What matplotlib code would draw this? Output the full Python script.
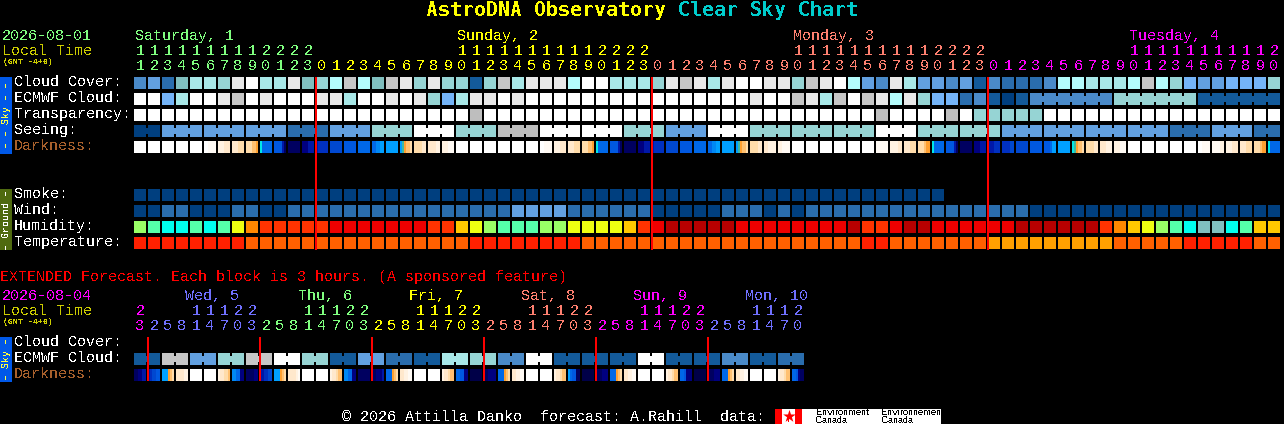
import numpy as np
import matplotlib
matplotlib.use("Agg")
import matplotlib.pyplot as plt

plt.rcParams['font.family'] = ['Liberation Mono', 'DejaVu Sans Mono']
plt.rcParams['text.hinting'] = 'native'
plt.rcParams['text.hinting_factor'] = 1

# block levels, 0 = clear/white up to 12 = overcast/dark blue
levels = ['#ffffff', '#e8e8e8', '#c6c6c6', '#b4fcfc', '#a8e8e8', '#96d4d4', '#80bfbf',
          '#74b4f8', '#62a0e0', '#4a8ac8', '#2a6dad', '#135a9a', '#003f7f', '#bebebe']

# hourly rows, one value per block
cloud = [9, 8, 10, 6, 4, 4, 5, 1, 0, 4, 4, 1, 6, 5, 3, 2, 3, 6, 2, 1, 5,
         1, 5, 5, 11, 5, 2, 4, 1, 1, 1, 3, 0, 0, 4, 4, 4, 5, 1, 2, 1, 4,
         1, 0, 0, 1, 1, 5, 2, 1, 0, 3, 8, 9, 1, 4, 8, 8, 9, 8, 11, 9, 10,
         10, 10, 9, 3, 3, 4, 4, 4, 3, 2, 3, 5, 7, 8, 8, 7, 7, 7, 5]
ecmwf = [0, 0, 7, 4, 0, 0, 1, 2, 0, 1, 0, 0, 0, 1, 1, 4, 0, 0, 1, 0, 1,
         5, 7, 4, 1, 1, 0, 1, 0, 0, 0, 0, 0, 0, 0, 0, 0, 0, 0, 0, 0, 0,
         0, 0, 1, 0, 0, 2, 1, 4, 2, 0, 2, 1, 3, 1, 5, 7, 7, 10, 9, 11, 12,
         11, 9, 9, 9, 9, 9, 9, 5, 5, 5, 5, 5, 5, 11, 11, 11, 11, 11, 11]
ecmwf_sizes = [1] * 64 + [6, 6, 6]
transparency = [0] * 24 + [13] + [0] * 28 + [13] + [0] * 4 + [13, 0, 5, 5, 5, 5, 5] + [0] * 17
seeing_groups = [12, 8, 8, 8, 10, 8, 5, 0, 5, 13, 0, 0, 5, 8, 0, 5, 5, 5, 0, 5, 5,
                 8, 8, 8, 8, 10, 8, 10]
seeing_sizes = [2] + [3] * 26 + [2]
smoke = [12] * 58
wind = [12, 12, 10, 10, 12, 12, 12, 10, 10, 12, 12, 10, 10, 10, 10, 10, 10, 10, 10, 10, 10,
        10, 10, 10, 10, 10, 10, 8, 8, 8, 8, 10, 10, 10, 10, 10, 10, 12, 12, 12, 12, 12,
        10, 10, 10, 12, 10, 12, 10, 10, 10, 10, 10, 10, 10, 10, 10, 10, 10, 10, 10, 10, 10,
        10, 12, 12, 12, 12, 12, 12, 12, 12, 12, 12, 12, 12, 12, 12, 12, 12, 12, 12]
humidity = ['#99ff66', '#55ffaa', '#00ffee', '#00ffee', '#55ffaa', '#00ffee', '#55ffaa', '#eeff11',
            '#ff8800', '#ff3300', '#ff3300', '#ff3300', '#ff3300', '#ff3300'] + ['#ee0000'] * 7 + \
           ['#ff3300', '#ff3300', '#ffc800', '#eeff11', '#99ff66', '#55ffaa', '#55ffaa', '#55ffaa',
            '#99ff66', '#99ff66', '#eeff11', '#eeff11', '#eeff11', '#eeff11', '#ffc800', '#ff3300',
            '#ee0000'] + ['#b80000'] * 5 + ['#ee0000'] * 8 + ['#b80000', '#ff3300', '#ff3300', '#ee0000',
            '#b80000', '#b80000'] + ['#ee0000'] * 6 + ['#b80000'] * 6 + \
           ['#ff3300', '#ff8800', '#ffc800', '#eeff11', '#99ff66', '#55ffaa', '#00ffee', '#80bfbf',
            '#80bfbf', '#00ffee', '#55ffaa', '#ffc800', '#ffc800']
temperature = ['#ff2000'] * 8 + ['#ff6000'] * 16 + ['#ff2000'] * 8 + ['#ff6000'] * 20 + \
              ['#ff2000'] * 2 + ['#ff6000'] * 7 + ['#ffa000'] * 9 + ['#ff6000'] * 5 + \
              ['#ff2000'] * 5 + ['#ff6000'] * 2

# darkness colours, each block has 6 samples left to right
dark_colors = {'W': '#ffffff', 'a': '#fffaf4', 'b': '#fff2e2', 'c': '#ffe8cc', 'd': '#ffdcaa',
               'e': '#ffc070', 'f': '#ffa030', 'C': '#00e8e8', 'T': '#40b8a0', 'S': '#00a0ff',
               'R': '#0088f4', 'B': '#0068e8', 'G': '#0058e0', 'H': '#0048d0', 'I': '#0030c0',
               'J': '#0018a8', 'K': '#000080', 'L': '#000060', 'M': '#000048'}
darkness = ['WWWWWW', 'WWWWWW', 'WWWWWW', 'WWWWWW', 'WWWWWW', 'WWaaaa', 'bbbccc', 'cccddd', 'dddeef',
            'CBBBBB', 'GGGGJL', 'LLLLLL', 'KKKJJJ', 'JIIIII', 'HHHHHH', 'GGGGGG', 'BBBBBB', 'BBRRSS',
            'SSSSSS', 'STfeed', 'ddddcc', 'ccccbb', 'bbbaaa', 'WWWWWW', 'WWWWWW', 'WWWWWW', 'WWWWWW',
            'WWWWWW', 'WWWWWW', 'WWaaaa', 'bbbccc', 'cccddd', 'dddeef', 'CBBBBB', 'GGGGJL', 'LLLLLL',
            'KKKJJJ', 'JIIIII', 'HHHHHH', 'GGGGGG', 'BBBBBB', 'BBRRSS', 'SSSSSS', 'STfeed', 'ddddcc',
            'ccbbbb', 'bbaaaa', 'WWWWWW', 'WWWWWW', 'WWWWWW', 'WWWWWW', 'WWWWWW', 'WWWWWW', 'aaaaaa',
            'bbbbcc', 'cccddd', 'dddeff', 'CBBBBB', 'GGGGJL', 'LLLLLL', 'KKKJJJ', 'JJJIII', 'IIIIHH',
            'HHHHHH', 'GGGGGG', 'GGGBSS', 'SSSSSS', 'CTfeed', 'ddddcc', 'cccbbb', 'bbbaaa', 'WWWWWW',
            'WWWWWW', 'WWWWWW', 'WWWWWW', 'WWWWWW', 'WWaaaa', 'aaaabb', 'bbbccc', 'cccddd', 'dddeff',
            'CBBBBB']

# extended forecast, 3 hour blocks
ext_ecmwf_pairs = [11, 2, 8, 5, 2, 0, 5, 11, 8, 10, 11, 4, 5, 9, 0, 11, 11, 11, 0, 11, 11, 9, 11, 10]
ext_darkness = ['LLKKJJ', 'JIHHGG', 'SSSfed', 'ccccbb', 'WWWWWW', 'WWWWWW', 'bccdde', 'RRBBKK',
                'LLLLKK', 'JJIIHH', 'SSSfed', 'ccccba', 'WWWWWW', 'WWWWWW', 'bccdee', 'RRBBKK',
                'LLLLLL', 'LLKKKJ', 'BBBfed', 'ccbbaa', 'WWWWWW', 'WWWWWW', 'bccdee', 'BBGGKK',
                'MMMMMM', 'LLKKKK', 'BBBfed', 'ccbbaa', 'WWWWWW', 'WWWWWW', 'bccdee', 'SBGGLL',
                'MMMMMM', 'LLLKKK', 'BBBfed', 'ccbbaa', 'WWWWWW', 'WWWWWW', 'bccdee', 'BBGKKK',
                'MMMMMM', 'LLLKKK', 'BBBfed', 'ccbbaa', 'WWWWWW', 'WWWWWW', 'bccdee', 'BBGKLL']

# hour labels and their day colours
GREEN, YELLOW, SALMON, MAGENTA, BLUE = '#80ff80', '#ffff00', '#ff8070', '#ff00ff', '#7070ff'
hours = [(11 + i) % 24 for i in range(82)]
hour_colors = [GREEN] * 13 + [YELLOW] * 24 + [SALMON] * 24 + [MAGENTA] * 21
day_names = ['Saturday, 1', 'Sunday, 2', 'Monday, 3', 'Tuesday, 4']
day_cols = [0, 23, 47, 71]
day_colors = [GREEN, YELLOW, SALMON, MAGENTA]

ext_hours = [(23 + 3 * i) % 24 for i in range(48)]
ext_colors = [MAGENTA] + [BLUE] * 8 + [GREEN] * 8 + [YELLOW] * 8 + [SALMON] * 8 + [MAGENTA] * 8 + [BLUE] * 7
ext_names = ['Wed, 5', 'Thu, 6', 'Fri, 7', 'Sat, 8', 'Sun, 9', 'Mon, 10']
ext_day_x = [185, 298, 409, 521, 633, 745]
ext_day_colors = [BLUE, GREEN, YELLOW, SALMON, MAGENTA, BLUE]

X0, PITCH, BLOCK = 134, 14, 12

fig = plt.figure(figsize=(12.84, 4.24), dpi=100, facecolor='black')
ax = fig.add_axes([0, 0, 1, 1])
ax.set_xlim(0, 1284)
ax.set_ylim(424, 0)
ax.axis('off')


def label(x, y, s, color='white', px=14.6, **kw):
    """ text in pixel units, no smoothing so it looks like the bitmap font """
    kw.setdefault('va', 'center')
    t = ax.text(x, y, s, color=color, fontsize=px * 0.72, **kw)
    t.set_antialiased(False)
    return t


def box(x, y, w, h, color):
    ax.bar(x, h, width=w, bottom=y, align='edge', color=color, linewidth=0, antialiased=False)


def blocks(values, y, sizes=None):
    """ a row of blocks; blocks in the same group get a small bridge between them """
    colors = [levels[v] if not isinstance(v, str) else v for v in values]
    for i, c in enumerate(colors):
        box(X0 + i * PITCH, y, BLOCK, BLOCK, c)
    if sizes is None:
        return
    i = 0
    for n in sizes:
        for j in range(i, i + n - 1):
            box(X0 + j * PITCH + BLOCK, y + 3, PITCH - BLOCK, BLOCK - 6, colors[j])
        i += n


def dark_row(cells, y):
    for i, cell in enumerate(cells):
        for j, ch in enumerate(cell):
            box(X0 + i * PITCH + j * 2, y, 2, BLOCK, dark_colors[ch])


def hour_labels(vals, cols, y_tens, y_units):
    for i, (h, c) in enumerate(zip(vals, cols)):
        xc = X0 + i * PITCH + 6
        if h >= 10:
            label(xc, y_tens, str(h // 10), c, ha='center')
        label(xc, y_units, str(h % 10), c, ha='center')


# title
label(426, 11, 'AstroDNA Observatory', YELLOW, px=20, fontweight='bold', family='DejaVu Sans Mono')
label(678, 11, 'Clear Sky Chart', '#00cccc', px=20, fontweight='bold', family='DejaVu Sans Mono')

# header of the hourly chart
label(2, 36, '2026-08-01', GREEN)
label(2, 51, 'Local Time', '#cccc00')
label(3, 62, '(GMT -4+0)', '#cccc00', px=8, fontweight='bold')
for name, col, c in zip(day_names, day_cols, day_colors):
    label(X0 + col * PITCH + 1, 36, name, c)
hour_labels(hours, hour_colors, 51, 66)

# sky rows
rows_sky = ['Cloud Cover:', 'ECMWF Cloud:', 'Transparency:', 'Seeing:', 'Darkness:']
for i, name in enumerate(rows_sky):
    label(14, 82 + i * 16, name, '#a8602c' if name == 'Darkness:' else 'white')
blocks(cloud, 77)
blocks(ecmwf, 93, ecmwf_sizes)
blocks(transparency, 109)
blocks(np.repeat(seeing_groups, seeing_sizes).tolist(), 125, seeing_sizes)
dark_row(darkness, 141)

box(0, 77, 12, 77, '#0058e8')
label(6, 115.5, '\u2013 \u2013 Sky \u2013 \u2013', '#ffff40', px=10, rotation=90, ha='center')

# ground rows
rows_ground = ['Smoke:', 'Wind:', 'Humidity:', 'Temperature:']
for i, name in enumerate(rows_ground):
    label(14, 194 + i * 16, name)
blocks(smoke, 189)
blocks(wind, 205)
blocks(humidity, 221)
blocks(temperature, 237)

box(0, 189, 12, 61, '#4f6a10')
label(6, 219.5, '\u2013 Ground \u2013', 'white', px=10, rotation=90, ha='center')

# midnight lines
for i in (13, 37, 61):
    box(X0 + i * PITCH - 1, 77, 2, 173, '#ff0000')

# extended forecast
label(0, 277, 'EXTENDED Forecast. Each block is 3 hours. (A sponsored feature)', '#ff0000')
label(2, 296, '2026-08-04', MAGENTA)
label(2, 311, 'Local Time', '#cccc00')
label(3, 322, '(GMT -4+0)', '#cccc00', px=8, fontweight='bold')
for name, x, c in zip(ext_names, ext_day_x, ext_day_colors):
    label(x, 296, name, c)
hour_labels(ext_hours, ext_colors, 311, 326)

label(14, 342, 'Cloud Cover:')
label(14, 358, 'ECMWF Cloud:')
label(14, 374, 'Darkness:', '#a8602c')
blocks(np.repeat(ext_ecmwf_pairs, 2).tolist(), 353, [2] * 24)
dark_row(ext_darkness, 369)

box(0, 337, 12, 45, '#0058e8')
label(6, 359.5, '\u2013 Sky \u2013', '#ffff40', px=10, rotation=90, ha='center')

for i in range(1, 48, 8):
    box(X0 + i * PITCH - 1, 337, 2, 44, '#ff0000')

# footer and the credit logos
label(342, 417, '\u00a9 2026 Attilla Danko  forecast: A.Rahill  data:')
box(775, 409, 166, 15, 'white')
box(775, 409, 7, 15, '#ff0000')
box(795, 409, 7, 15, '#ff0000')
ax.scatter([788.5], [415.5], s=90, marker='*', color='#ff0000', linewidths=0)
box(788, 418, 1, 4, '#ff0000')
for x, word in ((816, 'Environment'), (881, 'Environnement')):
    label(x, 412.5, word, 'black', px=8.6, family='Liberation Sans')
    label(x, 420.5, 'Canada', 'black', px=8.6, family='Liberation Sans')

fig.savefig('out.png', dpi=100, facecolor='black')
